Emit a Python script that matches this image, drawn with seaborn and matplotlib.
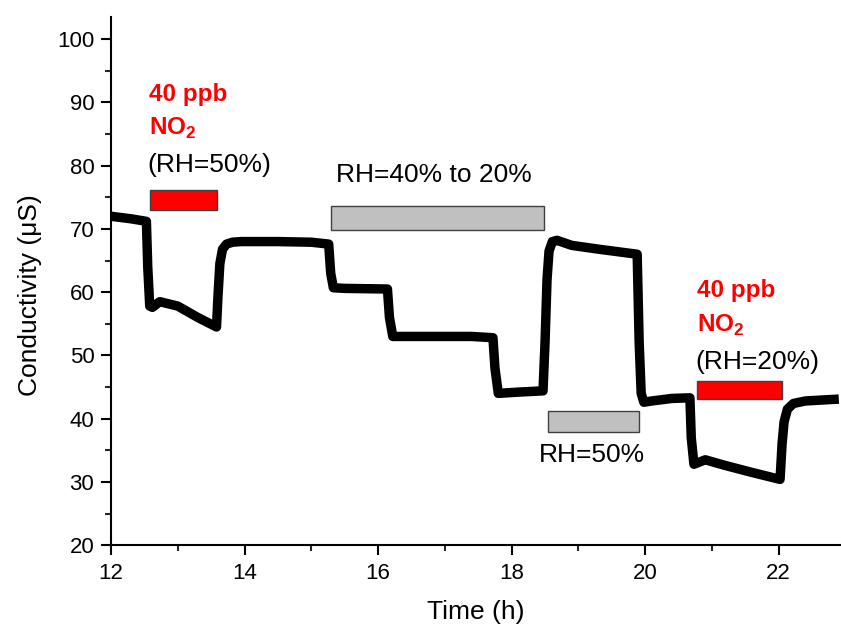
import matplotlib
matplotlib.use("Agg")
import matplotlib.pyplot as plt
from matplotlib.patches import Rectangle
from matplotlib.ticker import MultipleLocator
import seaborn as sns
import pandas as pd

# Data
time_h = [12.00, 12.30, 12.53, 12.55, 12.58, 12.62, 12.73, 13.00, 13.30, 13.58,
          13.60, 13.63, 13.67, 13.73, 13.82, 13.95, 14.50, 15.00, 15.26,
          15.29, 15.33, 15.50, 16.14,
          16.17, 16.22, 16.60, 17.00, 17.40, 17.72,
          17.75, 17.80, 18.10, 18.47,
          18.50, 18.53, 18.56, 18.61, 18.68, 18.90, 19.30, 19.88,
          19.91, 19.94, 19.98, 20.10, 20.40, 20.67,
          20.69, 20.73, 20.90, 21.20, 21.60, 22.02,
          22.05, 22.08, 22.13, 22.22, 22.40, 22.90]
conductivity = [72.0, 71.6, 71.2, 64.0, 57.8, 57.6, 58.5, 57.8, 56.0, 54.5,
                59.0, 64.5, 66.8, 67.6, 67.9, 68.0, 68.0, 67.9, 67.6,
                63.0, 60.7, 60.6, 60.5,
                56.0, 53.0, 53.0, 53.0, 53.0, 52.8,
                48.0, 44.0, 44.2, 44.4,
                52.0, 62.0, 66.5, 68.0, 68.2, 67.4, 66.8, 66.0,
                52.0, 44.0, 42.6, 42.8, 43.2, 43.3,
                37.0, 32.8, 33.5, 32.6, 31.5, 30.4,
                36.0, 39.5, 41.5, 42.4, 42.8, 43.1]

bar_x0 = [12.58, 15.29, 18.54, 20.77]
bar_x1 = [13.59, 18.48, 19.90, 22.05]
bar_y0 = [73.0, 69.8, 37.9, 43.1]
bar_y1 = [76.1, 73.6, 41.2, 45.9]
bar_colors = ["#ff0000", "#c0c0c0", "#c0c0c0", "#ff0000"]

x_label = "Time (h)"
y_label = "Conductivity (\u03bcS)"

df = pd.DataFrame({"Time (h)": time_h, "Conductivity": conductivity})

sns.set_theme(style="ticks")
plt.rcParams["font.family"] = ["Liberation Sans", "DejaVu Sans"]
plt.rcParams["mathtext.fontset"] = "custom"
plt.rcParams["mathtext.rm"] = "Liberation Sans"
plt.rcParams["mathtext.bf"] = "Liberation Sans:bold"

fig = plt.figure(figsize=(8.41, 6.31), dpi=100)
ax = fig.add_axes([0.132, 0.136, 0.867, 0.837])

sns.lineplot(data=df, x="Time (h)", y="Conductivity", ax=ax, color="black",
             linewidth=6.8, sort=False, estimator=None)
ax.lines[0].set_solid_joinstyle("round")
ax.lines[0].set_solid_capstyle("butt")

for x0, x1, y0, y1, c in zip(bar_x0, bar_x1, bar_y0, bar_y1, bar_colors):
    ax.add_patch(Rectangle((x0, y0), x1 - x0, y1 - y0, facecolor=c,
                           edgecolor="#404040", linewidth=1.0, zorder=3))

red = "#ff0000"
bold_fs = 17.5
norm_fs = 19
ax.text(12.57, 91.3, "40 ppb", color=red, fontsize=bold_fs, fontweight="bold",
        ha="left", va="center")
ax.text(12.57, 85.9, "NO$_\\mathbf{2}$", color=red, fontsize=bold_fs, fontweight="bold",
        ha="left", va="center")
ax.text(12.54, 80.1, "(RH=50%)", color="black", fontsize=norm_fs, ha="left", va="center")
ax.text(16.83, 78.5, "RH=40% to 20%", color="black", fontsize=norm_fs, ha="center", va="center")
ax.text(19.21, 34.2, "RH=50%", color="black", fontsize=norm_fs, ha="center", va="center")
ax.text(20.77, 60.2, "40 ppb", color=red, fontsize=bold_fs, fontweight="bold",
        ha="left", va="center")
ax.text(20.77, 54.8, "NO$_\\mathbf{2}$", color=red, fontsize=bold_fs, fontweight="bold",
        ha="left", va="center")
ax.text(20.75, 48.9, "(RH=20%)", color="black", fontsize=norm_fs, ha="left", va="center")

ax.set_xlim(12, 22.92)
ax.set_ylim(20, 103.5)
ax.xaxis.set_major_locator(MultipleLocator(2))
ax.xaxis.set_minor_locator(MultipleLocator(1))
ax.yaxis.set_major_locator(MultipleLocator(10))
ax.yaxis.set_minor_locator(MultipleLocator(5))
ax.set_yticks(range(20, 101, 10))
ax.tick_params(axis="both", which="major", direction="out", length=7, width=1.5,
               labelsize=16, colors="black", pad=5)
ax.tick_params(axis="x", which="major", pad=6)
ax.tick_params(axis="both", which="minor", direction="out", length=4, width=1.5)
for s in ["top", "right"]:
    ax.spines[s].set_visible(False)
for s in ["left", "bottom"]:
    ax.spines[s].set_linewidth(1.5)
    ax.spines[s].set_color("black")
ax.set_xlabel(x_label, fontsize=19, color="black", labelpad=11)
ax.set_ylabel(y_label, fontsize=19, color="black")
ax.yaxis.set_label_coords(-0.094, 0.473)

fig.savefig("out.png", dpi=100)
